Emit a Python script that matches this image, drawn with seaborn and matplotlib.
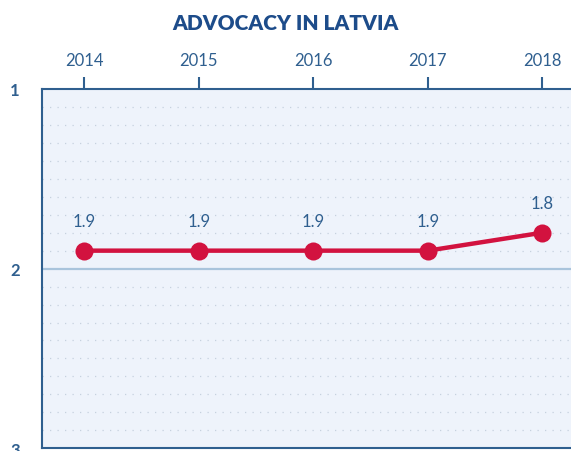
import numpy as np
import pandas as pd
import matplotlib.pyplot as plt
import seaborn as sns

sns.set_theme(style="white")
plt.rcParams["font.family"] = ["Lato", "DejaVu Sans"]

years = [2014, 2015, 2016, 2017, 2018]
scores = [1.9, 1.9, 1.9, 1.9, 1.8]
labels = ["1.9", "1.9", "1.9", "1.9", "1.8"]

BLUE = "#2f5f8f"
RED = "#d2123f"

df = pd.DataFrame({"year": years, "score": scores})

fig = plt.figure(figsize=(5.71, 4.52), dpi=100)
ax = fig.add_axes([0.0736, 0.006, 0.9264, 0.795])
ax.set_facecolor("#eef3fb")

# dotted grid every 0.1
for yv in np.arange(1.1, 3.0, 0.1):
    if abs(yv - 2) < 1e-6:
        continue
    ax.axhline(yv, color="#c6d1de", lw=0.9, ls=(0, (1, 5)), zorder=1)
ax.axhline(2, color="#a9c4dc", lw=1.6, zorder=1)

sns.lineplot(data=df, x="year", y="score", ax=ax, color=RED, lw=3.2,
             marker="o", markersize=13, markeredgewidth=0, zorder=3)

for x, y, t in zip(years, scores, labels):
    ax.text(x, y - 0.12, t, ha="center", va="bottom", color=BLUE, fontsize=12)

ax.set_xlim(2013.63, 2018.25)
ax.set_ylim(3, 1)
ax.set_xticks(years)
ax.set_yticks([1, 2, 3])
ax.set_yticklabels(["1", "2", "3"])
ax.xaxis.tick_top()
ax.tick_params(axis="x", direction="out", length=9, width=1.5, color=BLUE,
               labelcolor=BLUE, labelsize=12, pad=6)
ax.tick_params(axis="y", direction="out", length=10, width=1.5, color=BLUE,
               labelcolor=BLUE, labelsize=12, pad=6)
for lab in ax.get_yticklabels():
    lab.set_fontweight("bold")
ax.set_xlabel("")
ax.set_ylabel("")

for side in ["top", "left", "bottom"]:
    ax.spines[side].set_color(BLUE)
    ax.spines[side].set_linewidth(1.5)
ax.spines["right"].set_visible(False)

fig.text(0.5, 0.948, "ADVOCACY IN LATVIA", ha="center", va="center",
         color="#1d4c8a", fontsize=15, fontweight="heavy")

fig.savefig("out.png", dpi=100)
